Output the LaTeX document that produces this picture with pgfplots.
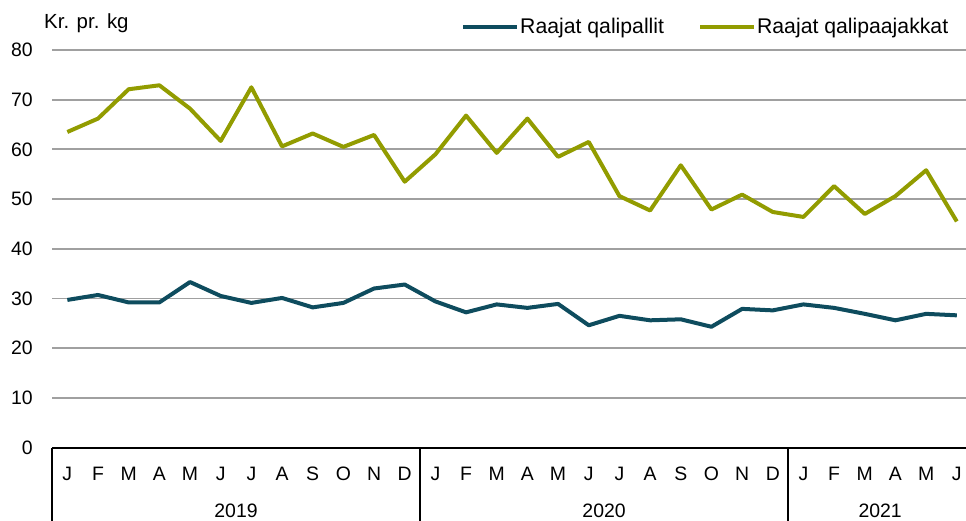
\documentclass[border=0pt]{standalone}
\usepackage{fontspec}
\setmainfont{Liberation Sans}
\usepackage{pgfplots}
\pgfplotsset{compat=1.18}
\definecolor{DarkTeal}{RGB}{14,76,94}
\definecolor{Olive}{RGB}{146,156,0}
\definecolor{GridGray}{RGB}{160,160,160}

% monthly prices, 0 = Jan 2019 ... 29 = Jun 2021
\begin{document}
\begin{tikzpicture}[font=\fontsize{19.5}{23}\selectfont]
\path[use as bounding box] (0,0) rectangle (966bp,-521bp);
\begin{axis}[
    at={(52bp,-447.5bp)}, anchor=south west,
    scale only axis,
    width=914bp, height=397.5bp,
    xmin=-0.5, xmax=29.3,
    ymin=0, ymax=80,
    ytick={0,10,...,80},
    xtick={0,...,29},
    xticklabels={J,F,M,A,M,J,J,A,S,O,N,D,J,F,M,A,M,J,J,A,S,O,N,D,J,F,M,A,M,J},
    major tick length=0pt,
    axis x line*=bottom,
    axis y line*=left,
    x axis line style={black, line width=2bp, -},
    y axis line style={draw=none},
    ymajorgrids,
    grid style={GridGray, line width=1.8bp},
    /pgf/number format/assume math mode=true,
    yticklabel style={anchor=east, inner sep=0pt, xshift=-19bp},
    xticklabel style={anchor=base, inner sep=0pt, yshift=-32.5bp},
    clip=false,
    legend columns=2,
    legend style={draw=none, fill=none, at={(0.4475,1.058)}, anchor=west,
        inner sep=0pt, font=\fontsize{21.3}{25}\selectfont, nodes={inner sep=1bp},
        /tikz/every even column/.append style={column sep=33bp}},
    legend image code/.code={\draw[#1] (0bp,0bp) -- (54bp,0bp);},
]
\addplot[DarkTeal, line width=4bp, line join=round] coordinates {
    (0,29.7) (1,30.7) (2,29.2) (3,29.2) (4,33.3) (5,30.5) (6,29.1) (7,30.1)
    (8,28.2) (9,29.1) (10,32.0) (11,32.8)
    (12,29.4) (13,27.2) (14,28.8) (15,28.1) (16,28.9) (17,24.6) (18,26.5) (19,25.6)
    (20,25.8) (21,24.3) (22,27.9) (23,27.6)
    (24,28.8) (25,28.1) (26,26.9) (27,25.6) (28,26.9) (29,26.6)
};
\addlegendentry{Raajat qalipallit}
\addplot[Olive, line width=4bp, line join=round] coordinates {
    (0,63.5) (1,66.2) (2,72.1) (3,72.9) (4,68.2) (5,61.7) (6,72.5) (7,60.6)
    (8,63.2) (9,60.5) (10,62.9) (11,53.5)
    (12,59.0) (13,66.8) (14,59.3) (15,66.2) (16,58.5) (17,61.5) (18,50.6) (19,47.7)
    (20,56.8) (21,47.9) (22,50.9) (23,47.4)
    (24,46.4) (25,52.6) (26,47.0) (27,50.6) (28,55.8) (29,45.5)
};
\addlegendentry{Raajat qalipaajakkat}
% year separators and year labels
\draw[black, line width=2bp] (axis cs:-0.5,0) -- ([yshift=-74bp]axis cs:-0.5,0);
\draw[black, line width=2bp] (axis cs:11.5,0) -- ([yshift=-74bp]axis cs:11.5,0);
\draw[black, line width=2bp] (axis cs:23.5,0) -- ([yshift=-74bp]axis cs:23.5,0);
\node[anchor=base] at ([yshift=-69.5bp]axis cs:5.5,0) {2019};
\node[anchor=base] at ([yshift=-69.5bp]axis cs:17.5,0) {2020};
\node[anchor=base] at ([yshift=-69.5bp]axis cs:26.5,0) {2021};
\end{axis}
\node[anchor=base west, inner sep=0pt, font=\fontsize{20.5}{24}\selectfont] at (44bp,-28bp) {Kr. pr. kg};
\end{tikzpicture}
\end{document}
